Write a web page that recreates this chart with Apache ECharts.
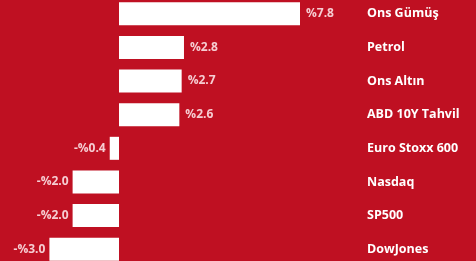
<!DOCTYPE html>
<html>
<head>
    <meta charset="utf-8" />
    <title>Getiriler</title>
    <style>
    html, body { margin: 0; padding: 0; background: #BF1022; }
    #chart { width: 476px; height: 261px; }
    </style>
    <script src="https://cdn.jsdelivr.net/npm/echarts@6/dist/echarts.min.js"></script>
</head>
<body>
    <div id="chart"></div>
    <script>
    // kategoriler ve değerler (%)
    var categories = ['Ons Gümüş', 'Petrol', 'Ons Altın', 'ABD 10Y Tahvil', 'Euro Stoxx 600', 'Nasdaq', 'SP500', 'DowJones'];
    var values = [7.8, 2.8, 2.7, 2.6, -0.4, -2.0, -2.0, -3.0];

    function fmt(v) {
        return (v < 0 ? '-%' : '%') + Math.abs(v).toFixed(1);
    }

    var chart = echarts.init(document.getElementById('chart'));
    chart.setOption({
        backgroundColor: '#BF1022',
        animation: false,
        grid: { left: 49.4, width: 250.6, top: -3, height: 269, outerBoundsMode: 'none' },
        xAxis: {
            type: 'value', min: -3, max: 7.8,
            show: false
        },
        yAxis: {
            type: 'category',
            data: categories,
            inverse: true,
            position: 'right',
            axisLine: { show: false },
            axisTick: { show: false },
            splitLine: { show: false },
            axisLabel: {
                margin: 67,
                color: '#ffffff',
                fontFamily: 'Open Sans',
                fontWeight: 'bold',
                fontSize: 12.5
            }
        },
        series: [{
            type: 'bar',
            data: values.map(function(v) {
                // negatif değerlerde etiket solda
                return v < 0 ? { value: v, label: { position: 'left', distance: 4 } } : v;
            }),
            barWidth: 23,
            itemStyle: { color: '#ffffff' },
            label: {
                show: true,
                position: 'right',
                distance: 6,
                color: '#F6CDD2',
                fontFamily: 'Open Sans',
                fontWeight: 'bold',
                fontSize: 12,
                formatter: function(p) { return fmt(p.value); }
            }
        }]
    });
    </script>
</body>
</html>
